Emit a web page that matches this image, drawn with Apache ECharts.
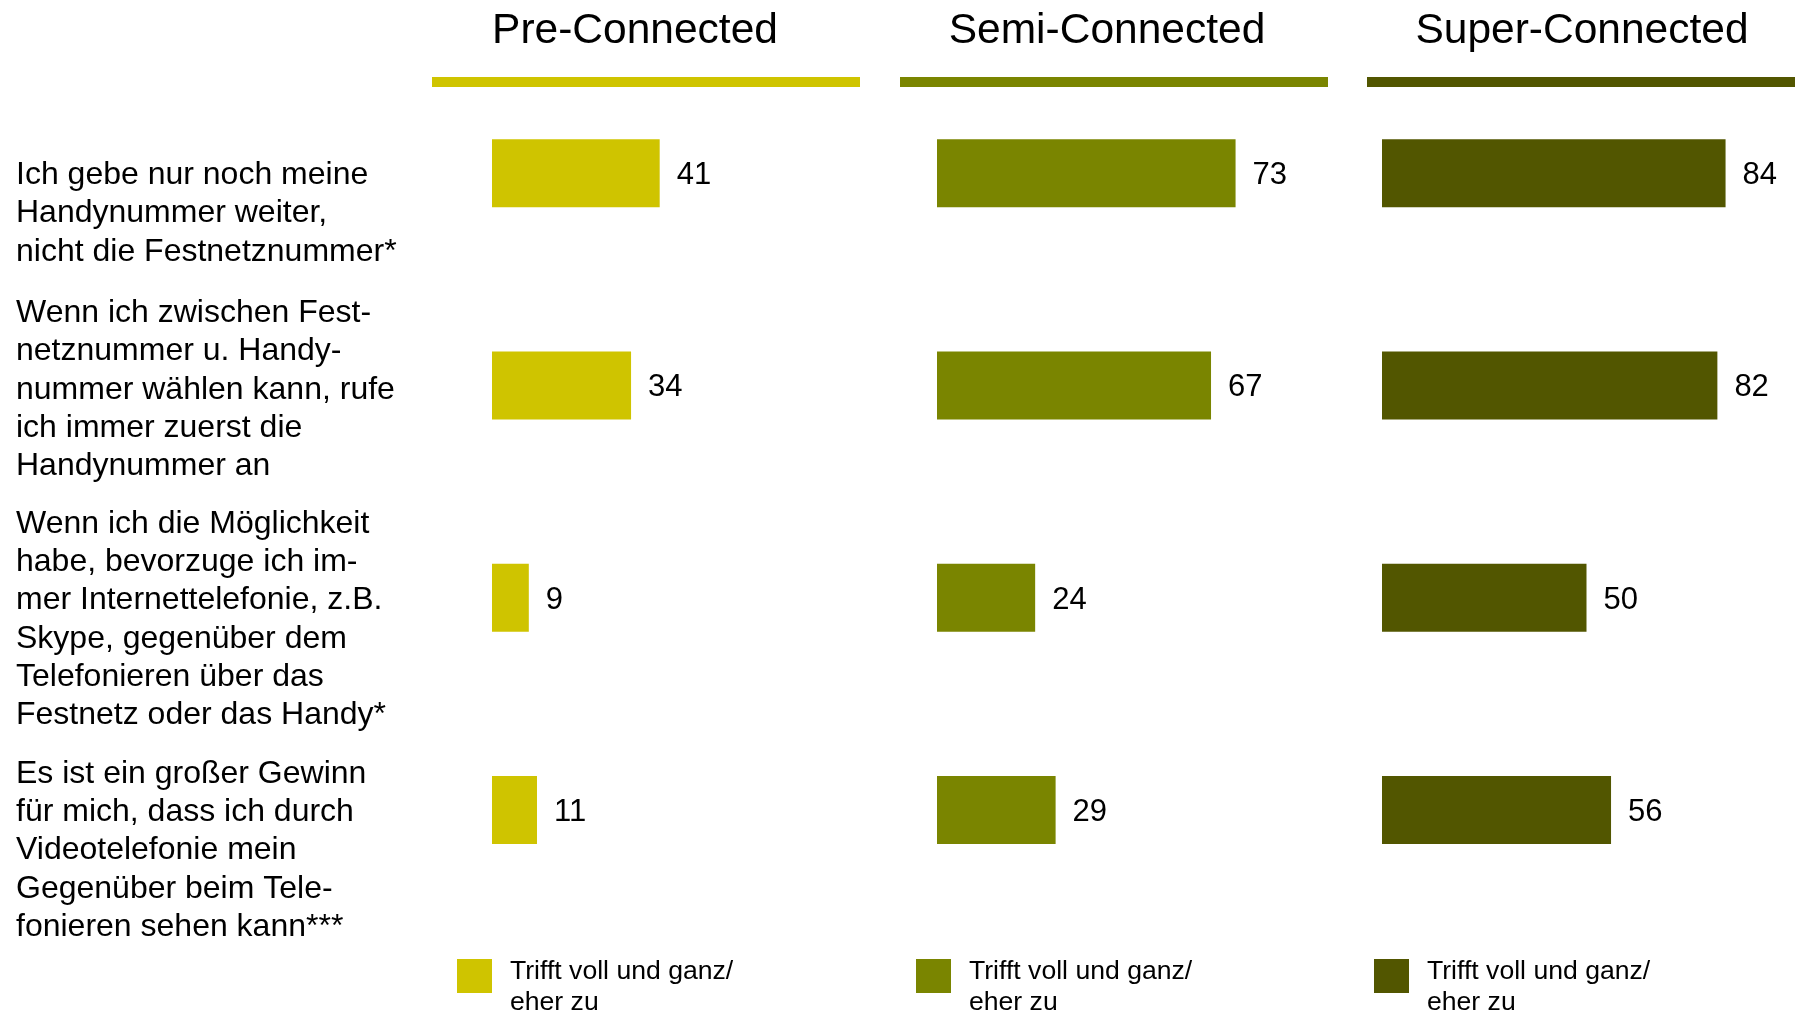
<!DOCTYPE html>
<html>
<head>
<meta charset="utf-8">
<script src="https://cdn.jsdelivr.net/npm/echarts@6/dist/echarts.min.js"></script>
<style>
html,body{margin:0;padding:0;background:#fff;}
#chart{width:1798px;height:1013px;}
</style>
</head>
<body>
<div id="chart"></div>
<script>
const categories = [
  'Ich gebe nur noch meine\nHandynummer weiter,\nnicht die Festnetznummer*',
  'Wenn ich zwischen Fest-\nnetznummer u. Handy-\nnummer wählen kann, rufe\nich immer zuerst die\nHandynummer an',
  'Wenn ich die Möglichkeit\nhabe, bevorzuge ich im-\nmer Internettelefonie, z.B.\nSkype, gegenüber dem\nTelefonieren über das\nFestnetz oder das Handy*',
  'Es ist ein großer Gewinn\nfür mich, dass ich durch\nVideotelefonie mein\nGegenüber beim Tele-\nfonieren sehen kann***'
];
const groups = ['Pre-Connected', 'Semi-Connected', 'Super-Connected'];
const preValues = [41, 34, 9, 11];
const semiValues = [73, 67, 24, 29];
const superValues = [84, 82, 50, 56];
const legendLabel = 'Trifft voll und ganz/\neher zu';

// styling (not data)
const FONT = '"Liberation Sans", Arial, Helvetica, sans-serif';
const colors = ['#CFC400', '#7A8500', '#525600'];
const gridLefts = [492, 937, 1382];
const titleCenters = [635, 1107, 1582];
const headerLines = [[432, 860], [900, 1328], [1367, 1795]];
const legendLefts = [457, 916, 1374];
const labelSpacer = [81, 9, 44, 81];
const seriesValues = [preValues, semiValues, superValues];

const chart = echarts.init(document.getElementById('chart'));

const spacerRich = {};
labelSpacer.forEach((h, k) => { spacerRich['p' + k] = { fontSize: 2, lineHeight: h, height: h }; });

const grids = [], xAxes = [], yAxes = [], series = [], titles = [], legends = [], graphics = [];
for (let i = 0; i < 3; i++) {
  grids.push({ left: gridLefts[i], top: 67, width: 409, height: 849, containLabel: false, outerBoundsMode: 'none' });
  xAxes.push({ type: 'value', gridIndex: i, min: 0, max: 100, show: false });
  yAxes.push({
    type: 'category', gridIndex: i, inverse: true,
    data: categories,
    show: i === 0,
    axisLine: { show: false }, axisTick: { show: false }, splitLine: { show: false },
    axisLabel: {
      show: i === 0, interval: 0, align: 'left', verticalAlign: 'middle', margin: 476, hideOverlap: false,
      fontSize: 32, lineHeight: 38.33, color: '#000', fontFamily: FONT,
      formatter: function (value, index) { return '{p' + index + '| }\n' + value; },
      rich: spacerRich
    }
  });
  series.push({
    type: 'bar', name: groups[i], xAxisIndex: i, yAxisIndex: i,
    data: seriesValues[i], barWidth: 68,
    itemStyle: { color: colors[i] },
    label: { show: true, position: 'right', distance: 17, offset: [0, 2.5], fontSize: 31, color: '#000', fontFamily: FONT },
    emphasis: { disabled: true },
    animation: false
  });
  titles.push({
    text: groups[i], left: titleCenters[i], top: 10, textAlign: 'center', padding: 0,
    textStyle: { fontSize: 42.5, lineHeight: 42, fontWeight: 'normal', color: '#000', fontFamily: FONT }
  });
  legends.push({
    data: [groups[i]], left: legendLefts[i], top: 933.5, padding: 0,
    itemWidth: 35, itemHeight: 34, icon: 'rect', selectedMode: false,
    formatter: function () { return '{p| }\n' + legendLabel; },
    textStyle: {
      fontSize: 26.6, lineHeight: 31, color: '#000', fontFamily: FONT, padding: [0, 0, 0, 13],
      rich: { p: { fontSize: 2, lineHeight: 23, height: 23 } }
    }
  });
  graphics.push({
    type: 'rect', shape: { x: headerLines[i][0], y: 77, width: headerLines[i][1] - headerLines[i][0], height: 10 },
    style: { fill: colors[i] }, silent: true
  });
}

chart.setOption({
  animation: false,
  backgroundColor: '#fff',
  title: titles,
  legend: legends,
  grid: grids,
  xAxis: xAxes,
  yAxis: yAxes,
  series: series,
  graphic: graphics
});
</script>
</body>
</html>
